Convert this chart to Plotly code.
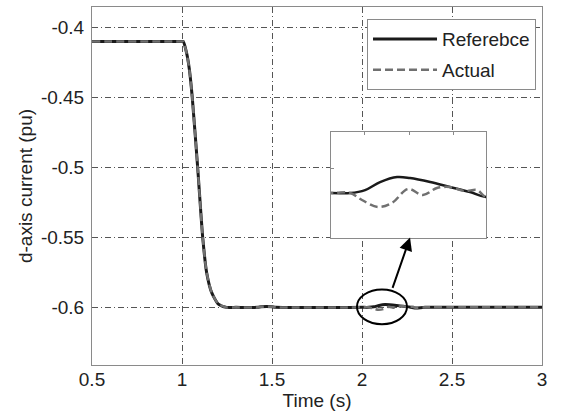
import plotly.graph_objects as go

# ---------------- data ----------------
t_ref = [0.5, 1.0, 1.007, 1.026, 1.041, 1.057, 1.087, 1.115, 1.137, 1.165, 1.202, 1.248,
         1.30, 1.42, 1.44, 1.50, 1.52, 2.0, 2.037, 2.066, 2.095, 2.128, 2.153, 2.192,
         2.230, 2.269, 2.300, 2.35, 3.0]
i_ref = [-0.41, -0.41, -0.41, -0.4185, -0.430, -0.45, -0.50, -0.55, -0.5752, -0.5895, -0.5977, -0.6,
         -0.6, -0.6, -0.5996, -0.5996, -0.6, -0.6, -0.6, -0.59963, -0.59863, -0.598, -0.59813, -0.59863,
         -0.59925, -0.59988, -0.6005, -0.6, -0.6]

t_act = [0.5, 1.0, 1.007, 1.026, 1.041, 1.057, 1.087, 1.115, 1.137, 1.165, 1.202, 1.248,
         1.30, 1.42, 1.44, 1.50, 1.52, 2.0, 2.037, 2.060, 2.091, 2.118, 2.149, 2.178, 2.205,
         2.230, 2.259, 2.283, 2.300, 2.35, 3.0]
i_act = [-0.41, -0.41, -0.41, -0.4185, -0.430, -0.45, -0.50, -0.55, -0.5752, -0.5895, -0.5977, -0.6,
         -0.6, -0.6, -0.5996, -0.5996, -0.6, -0.6, -0.6, -0.600875, -0.60175, -0.60125, -0.5995, -0.60025, -0.59938,
         -0.59925, -0.59975, -0.599625, -0.6005, -0.6, -0.6]

x_ticks = [0.5, 1, 1.5, 2, 2.5, 3]
x_ticktext = ["0.5", "1", "1.5", "2", "2.5", "3"]
y_ticks = [-0.6, -0.55, -0.5, -0.45, -0.4]
y_ticktext = ["-0.6", "-0.55", "-0.5", "-0.45", "-0.4"]

series_names = ["Referebce", "Actual"]

# zoom window (inset) and annotation geometry
inset_xrange = [2.0, 2.3]
inset_yrange = [-0.60563, -0.59237]
ellipse = dict(x0=1.972, x1=2.25, y0=-0.6121, y1=-0.5872)
arrow_tail = (2.167, -0.5872)
arrow_head = (2.267, -0.5501)

FONT = "Liberation Sans, Arial, sans-serif"
FS = 19
REF_COLOR = "#1a1a1a"
ACT_COLOR = "#707070"
FRAME = "#8a8a8a"

fig = go.Figure()

# main traces
fig.add_trace(go.Scatter(x=t_ref, y=i_ref, mode="lines", name=series_names[0], legendgroup="a",
                         line=dict(color=REF_COLOR, width=3, shape="spline", smoothing=0.6),
                         xaxis="x", yaxis="y"))
fig.add_trace(go.Scatter(x=t_act, y=i_act, mode="lines", name=series_names[1], legendgroup="b",
                         line=dict(color=ACT_COLOR, width=2.5, dash="8px,4px", shape="spline", smoothing=0.6),
                         xaxis="x", yaxis="y"))

# inset traces
fig.add_trace(go.Scatter(x=t_ref, y=i_ref, mode="lines", showlegend=False,
                         line=dict(color=REF_COLOR, width=2.5, shape="spline", smoothing=1.0),
                         xaxis="x2", yaxis="y2"))
fig.add_trace(go.Scatter(x=t_act, y=i_act, mode="lines", showlegend=False,
                         line=dict(color=ACT_COLOR, width=2.5, dash="8px,4px", shape="spline", smoothing=1.0),
                         xaxis="x2", yaxis="y2"))

fig.update_layout(
    width=562, height=417,
    margin=dict(l=92, r=20, t=7, b=52),
    paper_bgcolor="white", plot_bgcolor="white",
    font=dict(family=FONT, size=FS, color="#222"),
    showlegend=True,
    legend=dict(x=0.9867, y=0.966, xanchor="right", yanchor="top",
                bordercolor=FRAME, borderwidth=1, bgcolor="white",
                font=dict(size=FS, family=FONT, color="#222"),
                traceorder="grouped", tracegroupgap=3, itemwidth=64),
    xaxis=dict(range=[0.5, 3], tickvals=x_ticks, ticktext=x_ticktext,
               showgrid=True, gridcolor="#555", gridwidth=1, griddash="6px,3px,1px,3px",
               showline=True, linecolor=FRAME, linewidth=1, mirror=True,
               zeroline=False, ticks="", ticklabelstandoff=-3,
               title=dict(text="Time (s)", standoff=2, font=dict(size=FS))),
    yaxis=dict(range=[-0.6412, -0.3853], tickvals=y_ticks, ticktext=y_ticktext,
               showgrid=True, gridcolor="#555", gridwidth=1, griddash="6px,3px,1px,3px",
               showline=True, linecolor=FRAME, linewidth=1, mirror=True,
               zeroline=False, ticks="", ticklabelstandoff=3,
               title=dict(text="d-axis current (pu)", standoff=3, font=dict(size=FS))),
    xaxis2=dict(domain=[0.531, 0.8756], anchor="y2", range=inset_xrange,
                showgrid=False, zeroline=False, showline=True, linecolor=FRAME, mirror=True,
                side="top", ticks="inside", ticklen=3, tickcolor=FRAME,
                tickvals=[2.064, 2.151, 2.238], showticklabels=False),
    yaxis2=dict(domain=[0.3547, 0.6508], anchor="x2", range=inset_yrange,
                showgrid=False, zeroline=False, showline=True, linecolor=FRAME, mirror=True,
                ticks="inside", ticklen=3, tickcolor=FRAME,
                tickvals=[-0.596875], showticklabels=False),
)

fig.add_shape(type="circle", xref="x", yref="y", **ellipse,
              line=dict(color="black", width=2))
fig.add_annotation(x=arrow_head[0], y=arrow_head[1], ax=arrow_tail[0], ay=arrow_tail[1],
                   xref="x", yref="y", axref="x", ayref="y", text="", showarrow=True,
                   arrowhead=2, arrowsize=1.3, arrowwidth=2, arrowcolor="black")

fig.write_html("out.html")
